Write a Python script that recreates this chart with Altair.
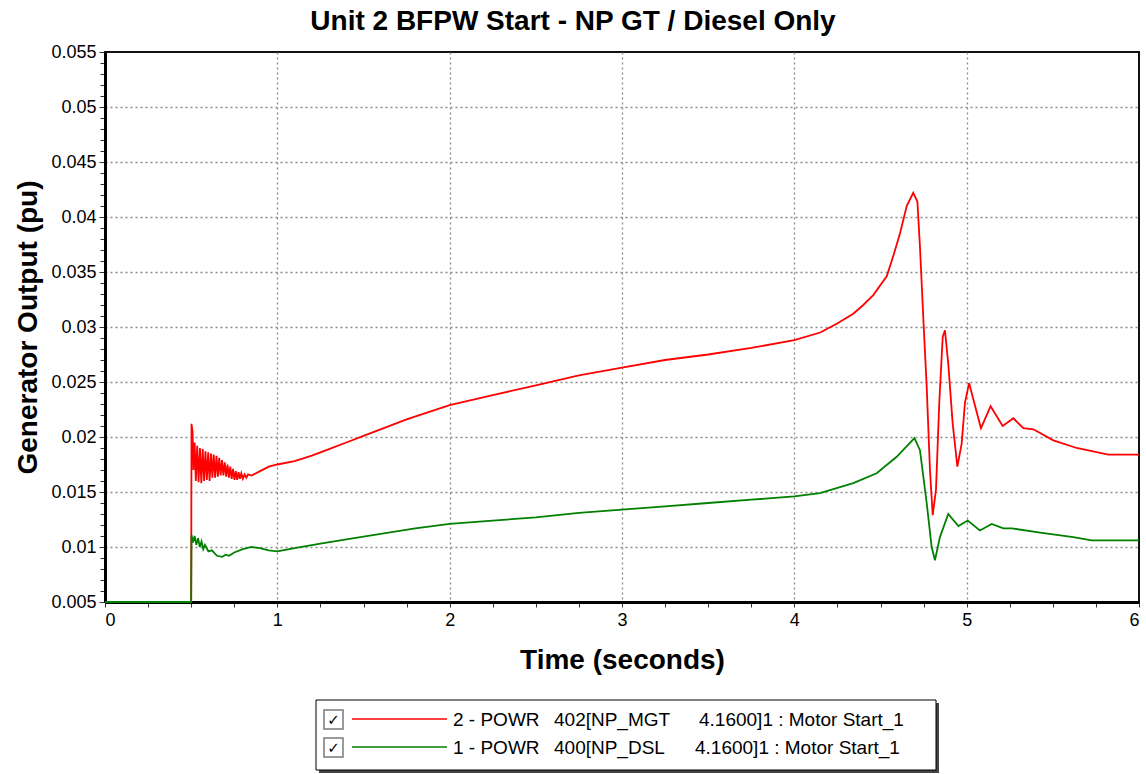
import altair as alt
import pandas as pd

# ---------------- data ----------------
red_t = [0.0, 0.5, 0.502, 0.508, 0.513, 0.520, 0.527, 0.535, 0.543, 0.551, 0.559, 0.567,
         0.575, 0.583, 0.591, 0.599, 0.607, 0.615, 0.623, 0.631, 0.639, 0.647, 0.655,
         0.663, 0.671, 0.679, 0.687, 0.695, 0.703, 0.711, 0.719, 0.727, 0.735, 0.743,
         0.751, 0.759, 0.767, 0.775, 0.783, 0.791, 0.80, 0.81, 0.82, 0.83, 0.85, 0.9,
         0.95, 1.0, 1.1, 1.2, 1.3, 1.4, 1.5, 1.75, 2.0, 2.25, 2.5, 2.75, 3.0, 3.25, 3.5,
         3.75, 4.0, 4.15, 4.246, 4.342, 4.40, 4.458, 4.536, 4.575, 4.613, 4.652, 4.69,
         4.714, 4.729, 4.749, 4.768, 4.787, 4.803, 4.822, 4.841, 4.861, 4.874, 4.893,
         4.919, 4.946, 4.971, 4.99, 5.014, 5.039, 5.083, 5.139, 5.209, 5.271, 5.329,
         5.387, 5.503, 5.638, 5.822, 6.0]
red_v = [0.005, 0.005, 0.0212, 0.0205, 0.0170, 0.0195, 0.0160, 0.0192, 0.0159, 0.0190,
         0.0158, 0.0189, 0.0160, 0.0187, 0.0161, 0.0186, 0.0160, 0.0185, 0.0163, 0.0184,
         0.0163, 0.0183, 0.0164, 0.0181, 0.0165, 0.0179, 0.0165, 0.0177, 0.0164, 0.0175,
         0.0163, 0.0173, 0.0162, 0.0171, 0.0161, 0.0169, 0.0161, 0.0168, 0.0162, 0.0167,
         0.0162, 0.0166, 0.0163, 0.0166, 0.0165, 0.0169, 0.0173, 0.0175, 0.0178, 0.0183,
         0.0189, 0.0195, 0.0201, 0.0216, 0.0229, 0.0238, 0.0247, 0.0256, 0.0263, 0.0270,
         0.0275, 0.0281, 0.0288, 0.0295, 0.0303, 0.0312, 0.0320, 0.0329, 0.0346, 0.0365,
         0.0385, 0.0410, 0.0422, 0.0414, 0.0373, 0.0306, 0.0246, 0.0170, 0.0129, 0.0152,
         0.0231, 0.0291, 0.0297, 0.0267, 0.0212, 0.0173, 0.0194, 0.0231, 0.0249, 0.0234,
         0.0208, 0.0228, 0.0210, 0.0217, 0.0208, 0.0207, 0.0197, 0.0190, 0.0184, 0.0184]

green_t = [0.0, 0.5, 0.502, 0.51, 0.52, 0.53, 0.54, 0.55, 0.56, 0.57, 0.58, 0.60, 0.62,
           0.65, 0.68, 0.70, 0.72, 0.75, 0.80, 0.85, 0.90, 0.95, 1.0, 1.1, 1.25, 1.4, 1.6,
           1.8, 2.0, 2.25, 2.5, 2.75, 3.0, 3.25, 3.5, 3.75, 4.0, 4.149, 4.342, 4.478,
           4.594, 4.697, 4.729, 4.768, 4.797, 4.816, 4.845, 4.893, 4.952, 5.006, 5.077,
           5.145, 5.213, 5.261, 5.426, 5.619, 5.725, 6.0]
green_v = [0.005, 0.005, 0.0111, 0.0104, 0.0110, 0.0102, 0.0108, 0.0100, 0.0105, 0.0098,
           0.0102, 0.0096, 0.0097, 0.0092, 0.0091, 0.0093, 0.0092, 0.0095, 0.0098, 0.0100,
           0.0099, 0.0097, 0.0096, 0.0099, 0.0103, 0.0107, 0.0112, 0.0117, 0.0121, 0.0124,
           0.0127, 0.0131, 0.0134, 0.0137, 0.0140, 0.0143, 0.0146, 0.0149, 0.0158, 0.0167,
           0.0182, 0.0199, 0.0188, 0.0140, 0.0100, 0.0088, 0.0109, 0.0130, 0.0119, 0.0124,
           0.0115, 0.0121, 0.0117, 0.0117, 0.0113, 0.0109, 0.0106, 0.0106]

series_names = ["2 - POWR 402[NP_MGT 4.1600]1 : Motor Start_1",
                "1 - POWR 400[NP_DSL 4.1600]1 : Motor Start_1"]
series_colors = ["#ff0000", "#008000"]
legend_parts = [["2 - POWR", "402[NP_MGT", "4.1600]1 : Motor Start_1"],
                ["1 - POWR", "400[NP_DSL", "4.1600]1 : Motor Start_1"]]

x_ticks = [i * 0.25 for i in range(25)]
y_ticks = [round(0.005 + 0.001 * i, 3) for i in range(51)]

title_text = "Unit 2 BFPW Start - NP GT / Diesel Only"
x_title = "Time (seconds)"
y_title = "Generator Output (pu)"

FONT = "Liberation Sans"

# ---------------- chart ----------------
red_df = pd.DataFrame({"t": red_t, "v": red_v, "s": series_names[0]})
green_df = pd.DataFrame({"t": green_t, "v": green_v, "s": series_names[1]})

x_scale = alt.Scale(domain=[0, 6], nice=False, zero=False)
y_scale = alt.Scale(domain=[0.005, 0.055], nice=False, zero=False)

x_axis = alt.Axis(
    values=x_ticks, tickCount=500, format="~g", title=x_title,
    labelExpr="datum.value % 1 == 0 ? datum.label : ''",
    labelOverlap=False, labelFont=FONT, labelFontSize=18, labelColor="black",
    labelPadding=4, tickSize=5, tickColor="#333", tickWidth=1,
    domainColor="black", domainWidth=3,
    grid=True, gridColor="#8a8a8a", gridDash=[2, 3], gridWidth=1.3,
    gridOpacity={"condition": {"test": "datum.value % 1 == 0 && datum.value > 0 && datum.value < 6", "value": 1}, "value": 0},
    titleFont=FONT, titleFontSize=28, titleFontWeight="bold", titleColor="black",
    titleX=517, titleY=66, titleBaseline="alphabetic", titleAlign="center",
)
y_axis = alt.Axis(
    values=y_ticks, tickCount=500, format="~g", title=y_title,
    labelExpr="round(datum.value*1000) % 5 == 0 ? datum.label : ''",
    labelOverlap=False, labelFont=FONT, labelFontSize=18, labelColor="black",
    labelPadding=3, tickColor="#333", tickWidth=1,
    tickSize={"condition": {"test": "round(datum.value*1000) % 5 == 0", "value": 6}, "value": 5},
    domainColor="black", domainWidth=3,
    grid=True, gridColor="#8a8a8a", gridDash=[2, 3], gridWidth=1.3,
    gridOpacity={"condition": {"test": "round(datum.value*1000) % 5 == 0 && datum.value > 0.0055 && datum.value < 0.0545", "value": 1}, "value": 0},
    titleFont=FONT, titleFontSize=28, titleFontWeight="bold", titleColor="black",
    titleX=-69, titleY=275, titleBaseline="alphabetic", titleAlign="center", titleAngle=270,
)

red_line = alt.Chart(red_df).mark_line(color=series_colors[0], strokeWidth=1.8).encode(
    x=alt.X("t:Q", scale=x_scale, axis=x_axis),
    y=alt.Y("v:Q", scale=y_scale, axis=y_axis),
    order="t:Q",
)
green_line = alt.Chart(green_df).mark_line(color=series_colors[1], strokeWidth=1.8).encode(
    x=alt.X("t:Q", scale=x_scale),
    y=alt.Y("v:Q", scale=y_scale),
    order="t:Q",
)

# ---------------- custom legend (pixel layout) ----------------
one = pd.DataFrame({"k": [0]})
legend_layers = []
legend_layers.append(alt.Chart(one).mark_rect(fill="#444").encode(
    x=alt.value(214), x2=alt.value(834), y=alt.value(651), y2=alt.value(721)))
legend_layers.append(alt.Chart(one).mark_rect(fill="white", stroke="black", strokeWidth=1).encode(
    x=alt.value(211), x2=alt.value(831), y=alt.value(648), y2=alt.value(718)))

row_y = [667, 695]
text_x = [[348, 449, 594], [348, 449, 590]]
for i in range(2):
    cy = row_y[i]
    legend_layers.append(alt.Chart(one).mark_rect(fill="white", stroke="#7a7a7a", strokeWidth=1.5).encode(
        x=alt.value(219), x2=alt.value(238), y=alt.value(cy - 9), y2=alt.value(cy + 10)))
    legend_layers.append(alt.Chart(pd.DataFrame({"c": ["✓"]})).mark_text(
        font="DejaVu Sans", fontSize=15, fontWeight="bold", color="black",
        align="center", baseline="middle").encode(
        x=alt.value(228.5), y=alt.value(cy + 1), text="c:N"))
    legend_layers.append(alt.Chart(one).mark_rule(color=series_colors[i], strokeWidth=1.5).encode(
        x=alt.value(247), x2=alt.value(342), y=alt.value(cy)))
    for j in range(3):
        legend_layers.append(alt.Chart(pd.DataFrame({"c": [legend_parts[i][j]]})).mark_text(
            font=FONT, fontSize=19, color="black", align="left", baseline="middle").encode(
            x=alt.value(text_x[i][j]), y=alt.value(cy + 1), text="c:N"))

chart = alt.layer(red_line, green_line, *legend_layers).properties(
    width=1034, height=550,
    autosize=alt.AutoSizeParams(type="none"),
    padding={"left": 105, "top": 52, "right": 7, "bottom": 172},
    background="white",
    title=alt.TitleParams(title_text, font=FONT, fontSize=28, fontWeight="bold",
                          color="black", anchor="middle", frame="group",
                          baseline="alphabetic", offset=20, dx=-49, dy=35),
).configure_view(stroke="#111", strokeWidth=2, fill="white")

chart.save("out.html", embed_options={"renderer": "svg", "actions": False})
